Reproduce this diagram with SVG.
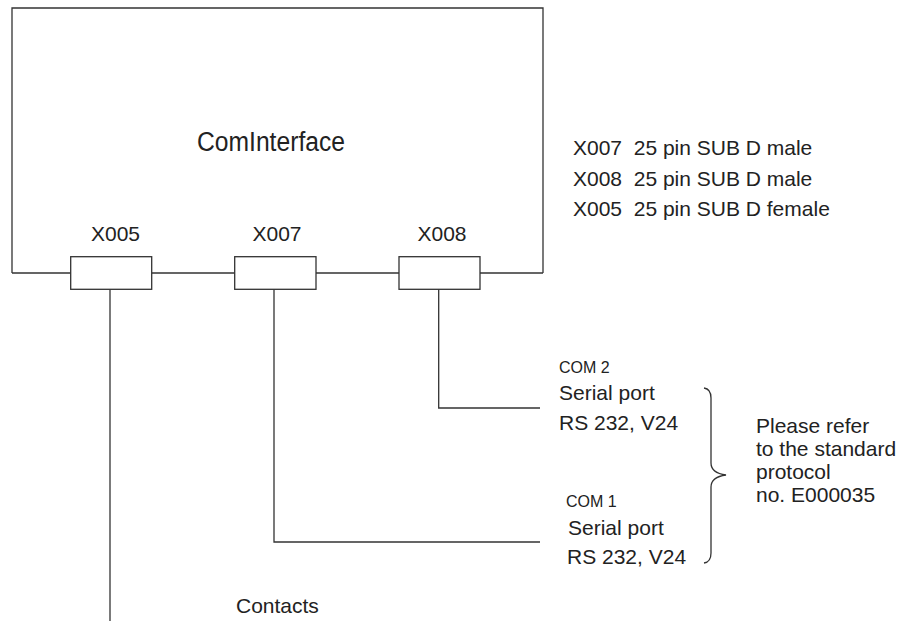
<svg xmlns="http://www.w3.org/2000/svg" width="903" height="621" viewBox="0 0 903 621">
<style>
.ln{fill:none;stroke:#333;stroke-width:1.3}
.bx{fill:#fff;stroke:#333;stroke-width:1.3}
text{font-family:"Liberation Sans",Arial,sans-serif;fill:#222}
.t{font-size:21px}
.s{font-size:16px}
.big{font-size:27px}
</style>
<rect width="903" height="621" fill="#fff"/>
<g id="cominterface">
<path class="ln" d="M12 273 V8 H543 V273"/>
<text class="big" x="197" y="151" textLength="148" lengthAdjust="spacingAndGlyphs">ComInterface</text>
</g>
<g id="connectors">
<path class="ln" d="M12 273 H70.7 M151.7 273 H234.7 M316 273 H399 M480 273 H543"/>
<path class="ln" d="M110 289.3 V621"/>
<path class="ln" d="M274 289.3 V542 H540"/>
<path class="ln" d="M438.7 289.3 V408 H540"/>
<path class="ln" d="M704 388 Q711 389 711 398 L711 463 Q711 473 726 475 Q711 477 711 487 L711 553 Q711 562 704 563"/>
</g>
<g id="x005">
<rect class="bx" x="70.7" y="256.7" width="81" height="32.6"/>
<text class="t" x="115.5" y="241" text-anchor="middle">X005</text>
</g>
<g id="x007">
<rect class="bx" x="234.7" y="256.7" width="81.3" height="32.6"/>
<text class="t" x="277" y="241" text-anchor="middle">X007</text>
</g>
<g id="x008">
<rect class="bx" x="399" y="256.7" width="81" height="32.6"/>
<text class="t" x="442" y="241" text-anchor="middle">X008</text>
</g>
<g id="legend">
<text class="t" x="573" y="155" xml:space="preserve">X007  25 pin SUB D male</text>
<text class="t" x="573" y="186" xml:space="preserve">X008  25 pin SUB D male</text>
<text class="t" x="573" y="216" xml:space="preserve">X005  25 pin SUB D female</text>
</g>
<g id="com2">
<text class="s" x="559" y="373">COM 2</text>
<text class="t" x="559" y="400">Serial port</text>
<text class="t" x="559" y="430">RS 232, V24</text>
</g>
<g id="com1">
<text class="s" x="566" y="507">COM 1</text>
<text class="t" x="568" y="535">Serial port</text>
<text class="t" x="567" y="564">RS 232, V24</text>
</g>
<g id="note">
<text class="t" x="756" y="433">Please refer</text>
<text class="t" x="756" y="456">to the standard</text>
<text class="t" x="756" y="479">protocol</text>
<text class="t" x="756" y="502">no. E000035</text>
</g>
<g id="contacts">
<text class="t" x="236" y="613">Contacts</text>
</g>
</svg>
